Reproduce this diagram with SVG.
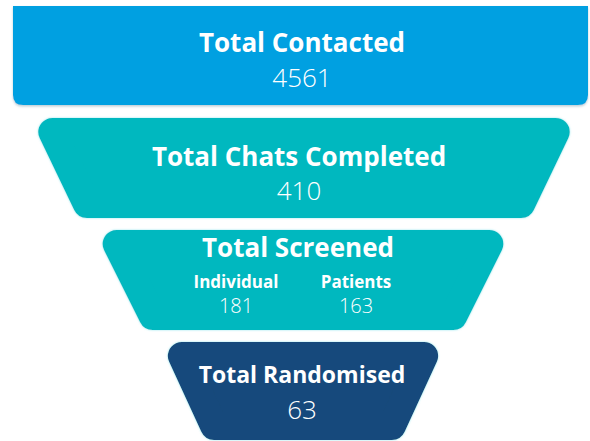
<svg xmlns="http://www.w3.org/2000/svg" width="590" height="441" viewBox="0 0 590 441">
  <defs>
    <filter id="glow" filterUnits="userSpaceOnUse" x="0" y="0" width="590" height="441">
      <feDropShadow dx="0" dy="0" stdDeviation="0.8" flood-color="#7fe3ec" flood-opacity="0.8"/>
    </filter>
    <filter id="shadow" filterUnits="userSpaceOnUse" x="0" y="0" width="590" height="441">
      <feDropShadow dx="0" dy="1.5" stdDeviation="1.2" flood-color="#6a8fa3" flood-opacity="0.45"/>
    </filter>
  </defs>
  <style>
    text { font-family: "Open Sans", "Noto Sans", "Liberation Sans", sans-serif; fill: #ffffff; text-anchor: middle; }
    .title { font-weight: 700; font-size: 26px; }
    .num { font-weight: 300; font-size: 26px; }
    .sub { font-weight: 700; font-size: 17px; }
    .subnum { font-weight: 300; font-size: 20px; }
    .teal { fill: #02b8bf; stroke: #02b8bf; stroke-width: 28; stroke-linejoin: round; }
    .navy { fill: #16497b; stroke: #16497b; stroke-width: 28; stroke-linejoin: round; }
  </style>
  <g id="connectors"></g>
  <g id="total-contacted">
    <path d="M13,6 H588 V95 Q588,105 578,105 H23 Q13,105 13,95 Z" fill="#03a0e1" filter="url(#shadow)"/>
    <text class="title" x="302" y="52">Total Contacted</text>
    <text class="num" x="302" y="87">4561</text>
  </g>
  <g id="total-chats-completed">
    <polygon class="teal" points="52.25,132 555.75,132 521.2,204 86.8,204" filter="url(#glow)"/>
    <text class="title" x="299" y="166">Total Chats Completed</text>
    <text class="num" x="299" y="200">410</text>
  </g>
  <g id="total-screened">
    <polygon class="teal" points="116.65,244 489.35,244 453.35,316 152.65,316" filter="url(#glow)"/>
    <text class="title" x="298" y="257">Total Screened</text>
    <text class="sub" x="236" y="288">Individual</text>
    <text class="sub" x="356" y="288">Patients</text>
    <text class="subnum" x="236" y="313">181</text>
    <text class="subnum" x="356" y="313">163</text>
  </g>
  <g id="total-randomised">
    <polygon class="navy" points="181.85,356 424.15,356 391.95,426 214.05,426" filter="url(#glow)"/>
    <text class="title" x="302" y="383" style="font-size:23px">Total Randomised</text>
    <text class="num" x="302" y="419">63</text>
  </g>
</svg>
